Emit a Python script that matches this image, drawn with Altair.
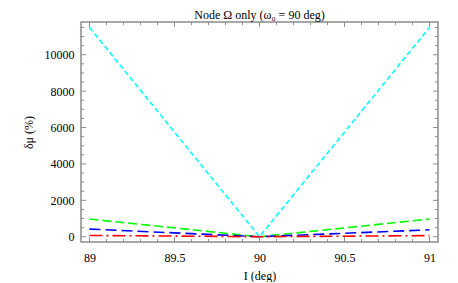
import altair as alt
import pandas as pd

# ---- data ----
incl = [89.0, 90.0, 91.0]
series_names = ["cyan", "green", "blue", "red"]
cyan_vals = [11500, 0, 11500]
green_vals = [970, 0, 970]
blue_vals = [420, 0, 380]
red_vals = [70, 0, 60]

x_major = [89.0, 89.5, 90.0, 90.5, 91.0]
x_minor = [89.1, 89.2, 89.3, 89.4, 89.6, 89.7, 89.8, 89.9,
           90.1, 90.2, 90.3, 90.4, 90.6, 90.7, 90.8, 90.9]
y_major = [0, 2000, 4000, 6000, 8000, 10000]
y_minor = [500, 1000, 1500, 2500, 3000, 3500, 4500, 5000, 5500,
           6500, 7000, 7500, 8500, 9000, 9500, 10500, 11000, 11500]

rows = []
for name, vals in zip(series_names, [cyan_vals, green_vals, blue_vals, red_vals]):
    for i, v in zip(incl, vals):
        rows.append({"I": i, "dmu": v, "s": name})
df = pd.DataFrame(rows)

W, H = 357, 220
xs = alt.Scale(domain=[88.95, 91.05], nice=False, zero=False)
ys = alt.Scale(domain=[-290, 11800], nice=False, zero=False)
FONT = "Liberation Serif"

lines = alt.Chart(df).mark_line(strokeWidth=1.6, clip=True).encode(
    x=alt.X("I:Q", scale=xs,
            axis=alt.Axis(values=x_major, format="~g", ticks=False, domain=False, grid=False,
                          labelFont=FONT, labelFontSize=12, labelColor="black", labelPadding=10,
                          title="I (deg)", titleFont=FONT, titleFontSize=12,
                          titleFontWeight="normal", titleColor="black", titlePadding=7)),
    y=alt.Y("dmu:Q", scale=ys,
            axis=alt.Axis(values=y_major, format="d", ticks=False, domain=False, grid=False,
                          labelFont=FONT, labelFontSize=12, labelColor="black", labelPadding=7,
                          title="δμ (%)", titleFont=FONT, titleFontSize=12,
                          titleFontWeight="normal", titleColor="black", titlePadding=9)),
    color=alt.Color("s:N", scale=alt.Scale(domain=series_names,
                                           range=["#00FFFF", "#00FF00", "#0000FF", "#FF0000"]),
                    legend=None),
    strokeDash=alt.StrokeDash("s:N", scale=alt.Scale(domain=series_names,
                                                     range=[[5, 3], [9, 4], [11, 5], [13, 4, 2, 4]]),
                              legend=None),
    detail="s:N",
)

tick_color = "#8c8c8c"

def xticks(vals, length):
    d = pd.DataFrame({"v": vals})
    bottom = alt.Chart(d).mark_rule(color=tick_color, strokeWidth=1).encode(
        x=alt.X("v:Q", scale=xs), y=alt.value(H), y2=alt.value(H - length))
    top = alt.Chart(d).mark_rule(color=tick_color, strokeWidth=1).encode(
        x=alt.X("v:Q", scale=xs), y=alt.value(0), y2=alt.value(length))
    return [bottom, top]

def yticks(vals, length):
    d = pd.DataFrame({"v": vals})
    left = alt.Chart(d).mark_rule(color=tick_color, strokeWidth=1).encode(
        y=alt.Y("v:Q", scale=ys), x=alt.value(0), x2=alt.value(length))
    right = alt.Chart(d).mark_rule(color=tick_color, strokeWidth=1).encode(
        y=alt.Y("v:Q", scale=ys), x=alt.value(W), x2=alt.value(W - length))
    return [left, right]

layers = [lines] + xticks(x_major, 5) + xticks(x_minor, 3) + yticks(y_major, 5) + yticks(y_minor, 3)

chart = alt.layer(*layers).properties(
    width=W, height=H,
    title=alt.TitleParams("Node Ω only (ω₀ = 90 deg)", font=FONT, fontSize=12,
                          fontWeight="normal", color="black", anchor="middle", offset=0),
    autosize=alt.AutoSizeParams(type="none"),
    padding={"left": 73, "top": 14, "right": 12, "bottom": 40},
).configure_view(stroke=tick_color, strokeWidth=1.5).resolve_scale(x="shared", y="shared")

chart.save("out.html", embed_options={"renderer": "svg", "actions": False})
